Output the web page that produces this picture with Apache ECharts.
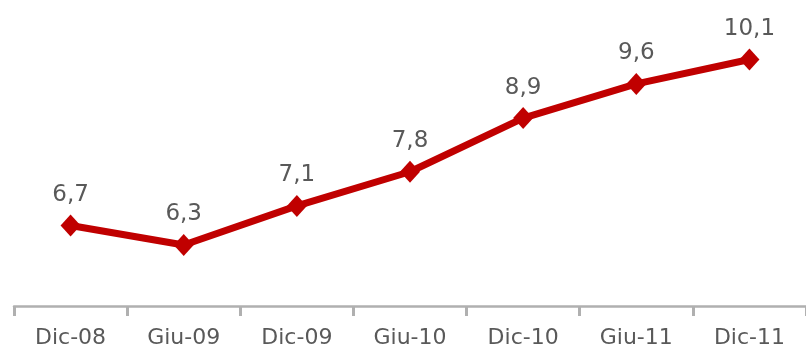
<!DOCTYPE html>
<html>
<head>
<meta charset="utf-8">
<script src="https://cdn.jsdelivr.net/npm/echarts@6/dist/echarts.min.js"></script>
<style>
  html, body { margin: 0; padding: 0; background: #ffffff; }
  #chart { width: 806px; height: 355px; }
</style>
</head>
<body>
<div id="chart"></div>
<script>
// Semester periods and index values
const periods = ['Dic-08', 'Giu-09', 'Dic-09', 'Giu-10', 'Dic-10', 'Giu-11', 'Dic-11'];
const values = [6.7, 6.3, 7.1, 7.8, 8.9, 9.6, 10.1];

const chart = echarts.init(document.getElementById('chart'));
chart.setOption({
  animation: false,
  grid: { left: 14, right: -3, top: 15.6, bottom: 46.6 },
  xAxis: {
    type: 'category',
    data: periods,
    boundaryGap: true,
    offset: -2.4,
    axisLine: { lineStyle: { color: '#b0b0b0', width: 2.5 } },
    axisTick: { show: true, length: 10, lineStyle: { color: '#b0b0b0', width: 3 } },
    axisLabel: {
      color: '#595959',
      fontFamily: 'DejaVu Sans',
      fontSize: 22,
      margin: 21,
      interval: 0
    }
  },
  yAxis: {
    type: 'value',
    min: 5,
    max: 11,
    show: false,
    splitLine: { show: false }
  },
  series: [{
    type: 'line',
    data: values,
    symbol: 'diamond',
    symbolSize: [20, 22],
    lineStyle: { color: '#c00000', width: 7 },
    itemStyle: { color: '#c00000' },
    label: {
      show: true,
      position: 'top',
      distance: 8,
      color: '#595959',
      fontFamily: 'DejaVu Sans',
      fontSize: 23,
      formatter: p => p.value.toFixed(1).replace('.', ',')
    }
  }]
});
</script>
</body>
</html>
